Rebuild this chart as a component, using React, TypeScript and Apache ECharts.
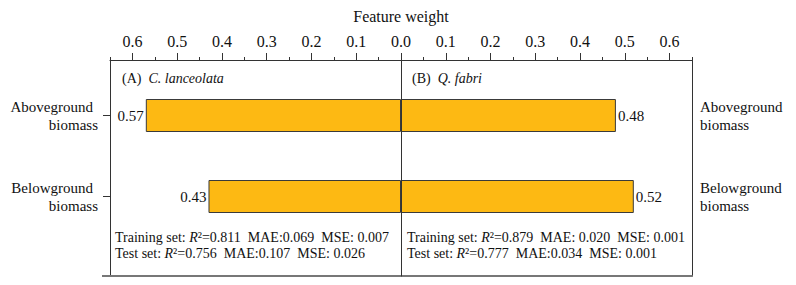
import React, { useEffect, useRef } from 'react';
import * as echarts from 'echarts';

// Feature weights of the two biomass components for each species
const categories = ['Aboveground biomass', 'Belowground biomass'];
const weightsA = [0.57, 0.43]; // (A) C. lanceolata, drawn to the left
const weightsB = [0.48, 0.52]; // (B) Q. fabri, drawn to the right

// Top axis ticks (same scale mirrored on both halves)
const majorTicks = [0, 0.1, 0.2, 0.3, 0.4, 0.5, 0.6];
const minorTicks = [0.05, 0.15, 0.25, 0.35, 0.45, 0.55, 0.65];
const axisMax = 0.65;

// Panel captions and model metrics
const panelCodes = ['(A)', '(B)'];
const speciesNames = ['C. lanceolata', 'Q. fabri'];
const trainingR2 = ['0.811', '0.879'];
const trainingRest = ['MAE:0.069  MSE: 0.007', 'MAE: 0.020  MSE: 0.001'];
const testR2 = ['0.756', '0.777'];
const testRest = ['MAE:0.107  MSE: 0.026', 'MAE:0.034  MSE: 0.001'];

const FONT = "'Liberation Serif', 'Times New Roman', serif";
const BAR_FILL = '#FDB913';
const BAR_EDGE = '#3a3a3a';
const FRAME = '#333333';

const LEFT = 110;
const MID = 401;
const HALF = 291;
const FRAME_TOP = 60;
const FRAME_H = 216;
const BAR_TOP = 75;
const BAR_H = 162;

const fmt1 = (v: number) => v.toFixed(1);
const font = (size: number, style = 'normal') => `${style} normal ${size}px ${FONT}`;

// Top axis of a frame grid: line, long ticks and labels at 0.1 steps
function majorAxis(gridIndex: number, inverse: boolean, labelValues: number[]) {
  return {
    type: 'value',
    gridIndex,
    position: 'top',
    inverse,
    min: 0,
    max: axisMax,
    axisLine: { show: true, onZero: false, lineStyle: { color: FRAME, width: 1 } },
    axisTick: { show: true, length: 7, inside: false, customValues: majorTicks, lineStyle: { color: FRAME } },
    axisLabel: {
      show: true,
      customValues: labelValues,
      formatter: (v: number) => fmt1(v),
      fontFamily: FONT,
      fontSize: 16,
      color: '#111',
      margin: 11,
    },
    splitLine: { show: false },
  };
}

// Value axis of a bar grid, lifted onto the frame top to carry the short ticks
function minorAxis(gridIndex: number, inverse: boolean) {
  return {
    type: 'value',
    gridIndex,
    position: 'top',
    offset: BAR_TOP - FRAME_TOP,
    inverse,
    min: 0,
    max: axisMax,
    axisLine: { show: false, onZero: false },
    axisTick: { show: true, length: 3, customValues: minorTicks, lineStyle: { color: FRAME } },
    axisLabel: { show: false },
    splitLine: { show: false },
  };
}

function bottomAxis(gridIndex: number) {
  return {
    type: 'value',
    gridIndex,
    position: 'bottom',
    min: 0,
    max: axisMax,
    axisLine: { show: true, onZero: false, lineStyle: { color: '#777777', width: 2 } },
    axisTick: { show: false },
    axisLabel: { show: false },
    splitLine: { show: false },
  };
}

function frameYAxis(gridIndex: number, position: string, z = 0) {
  return {
    type: 'value',
    gridIndex,
    position,
    min: 0,
    max: 1,
    z,
    axisLine: { show: true, onZero: false, lineStyle: { color: FRAME, width: 1 } },
    axisTick: { show: false },
    axisLabel: { show: false },
    splitLine: { show: false },
  };
}

function statText(x: number, y: number, lead: string, r2: string, rest: string) {
  return {
    type: 'text',
    x,
    y,
    silent: true,
    style: {
      text: `{n|${lead}}{i|R}{n|²=${r2}  ${rest}}`,
      rich: {
        n: { font: font(14), fill: '#111' },
        i: { font: font(14, 'italic'), fill: '#111' },
      },
      font: font(14),
      fill: '#111',
      verticalAlign: 'middle',
      align: 'left',
    },
  };
}

function panelTitle(x: number, idx: number) {
  return {
    type: 'text',
    x,
    y: 78,
    silent: true,
    style: {
      text: `{n|${panelCodes[idx]}}{i|${speciesNames[idx]}}`,
      rich: {
        n: { font: font(14), fill: '#111', padding: [0, 7, 0, 0] },
        i: { font: font(14, 'italic'), fill: '#111' },
      },
      font: font(14),
      fill: '#111',
      verticalAlign: 'middle',
      align: 'left',
    },
  };
}

const catLabelBase = { fontFamily: FONT, fontSize: 15, color: '#111', lineHeight: 18 };

const barLabel = (position: string) => ({
  show: true,
  position,
  distance: 2,
  formatter: (p: any) => Number(p.value).toFixed(2),
  fontFamily: FONT,
  fontSize: 15,
  color: '#111',
});

export default function App() {
  const ref = useRef<HTMLDivElement>(null);

  useEffect(() => {
    document.body.style.margin = '0';
    if (!ref.current) return;
    const chart = echarts.init(ref.current, undefined, { renderer: 'svg' });

    const gridBase = { outerBoundsMode: 'none', containLabel: false };

    const option = {
      animation: false,
      backgroundColor: '#ffffff',
      textStyle: { fontFamily: FONT },
      grid: [
        { ...gridBase, left: LEFT, top: BAR_TOP, width: HALF, height: BAR_H },
        { ...gridBase, left: MID, top: BAR_TOP, width: HALF, height: BAR_H },
        { ...gridBase, left: LEFT, top: FRAME_TOP, width: HALF, height: FRAME_H },
        { ...gridBase, left: MID, top: FRAME_TOP, width: HALF, height: FRAME_H },
      ],
      xAxis: [
        minorAxis(0, true),
        minorAxis(1, false),
        majorAxis(2, true, majorTicks),
        bottomAxis(2),
        majorAxis(3, false, majorTicks.filter((v) => v > 0)),
        bottomAxis(3),
      ],
      yAxis: [
        {
          type: 'category',
          gridIndex: 0,
          position: 'left',
          inverse: true,
          data: categories,
          axisLine: { show: false, onZero: false },
          axisTick: { show: true, length: 7, alignWithLabel: true, lineStyle: { color: FRAME } },
          axisLabel: {
            margin: 12,
            align: 'right',
            formatter: (name: string) => {
              const [a, b] = name.split(' ');
              return `{a|${a}}\n{b|${b}}`;
            },
            rich: {
              a: { ...catLabelBase, padding: [0, 5, 0, 0] },
              b: { ...catLabelBase },
            },
            ...catLabelBase,
          },
        },
        {
          type: 'category',
          gridIndex: 1,
          position: 'right',
          inverse: true,
          data: categories,
          axisLine: { show: false, onZero: false },
          axisTick: { show: false },
          axisLabel: {
            margin: 8,
            align: 'left',
            formatter: (name: string) => name.replace(' ', '\n'),
            ...catLabelBase,
          },
        },
        frameYAxis(2, 'left'),
        frameYAxis(2, 'right', 10),
        frameYAxis(3, 'right'),
      ],
      series: [
        {
          type: 'bar',
          name: 'C. lanceolata',
          xAxisIndex: 0,
          yAxisIndex: 0,
          data: weightsA,
          barWidth: 33,
          itemStyle: { color: BAR_FILL, borderColor: BAR_EDGE, borderWidth: 1 },
          label: barLabel('left'),
        },
        {
          type: 'bar',
          name: 'Q. fabri',
          xAxisIndex: 1,
          yAxisIndex: 1,
          data: weightsB,
          barWidth: 33,
          itemStyle: { color: BAR_FILL, borderColor: BAR_EDGE, borderWidth: 1 },
          label: barLabel('right'),
        },
      ],
      graphic: [
        {
          type: 'text',
          x: MID,
          y: 16,
          silent: true,
          style: {
            text: 'Feature weight',
            font: font(16),
            fill: '#111',
            align: 'center',
            verticalAlign: 'middle',
          },
        },
        panelTitle(122, 0),
        panelTitle(412, 1),
        statText(115, 237, 'Training set: ', trainingR2[0], trainingRest[0]),
        statText(115, 253, 'Test set: ', testR2[0], testRest[0]),
        statText(407, 237, 'Training set: ', trainingR2[1], trainingRest[1]),
        statText(407, 253, 'Test set: ', testR2[1], testRest[1]),
        {
          type: 'line',
          silent: true,
          shape: { x1: 102, y1: FRAME_TOP + FRAME_H, x2: LEFT, y2: FRAME_TOP + FRAME_H },
          style: { stroke: '#777777', lineWidth: 2 },
        },
      ],
    };

    chart.setOption(option as any);
    return () => chart.dispose();
  }, []);

  return <div ref={ref} style={{ width: 796, height: 285 }} />;
}
